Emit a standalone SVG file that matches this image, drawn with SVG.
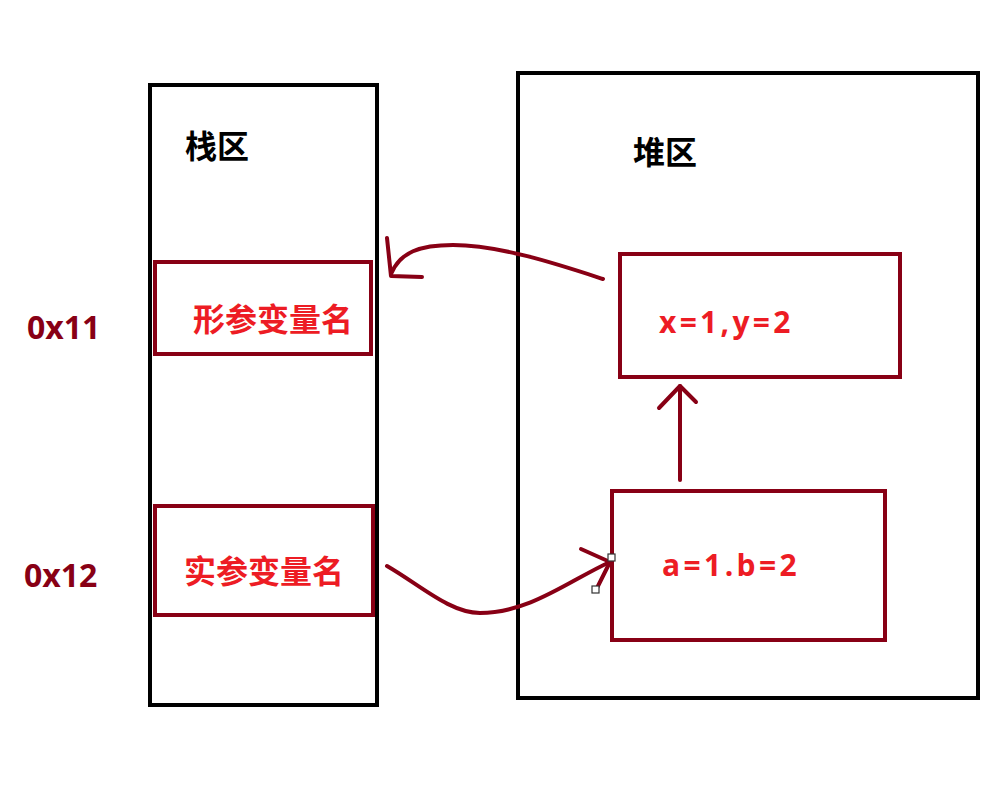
<svg xmlns="http://www.w3.org/2000/svg" width="1008" height="809" viewBox="0 0 1008 809">
<style>
.area{fill:none;stroke:#000;stroke-width:4}
.box{fill:none;stroke:#880015;stroke-width:4}
.conn path{fill:none;stroke:#880015;stroke-width:4;stroke-linecap:round;stroke-linejoin:round}
.zh{font-family:"Noto Sans CJK SC",sans-serif;font-weight:bold}
.lat{font-family:"Open Sans","Noto Sans",sans-serif;font-weight:bold}
.red{fill:#ED1C24}
.dred{fill:#880015}
.h{fill:#fff;stroke:#333;stroke-width:1.2}
</style>
<rect width="1008" height="809" fill="#fff"/>
<g id="stack">
<rect class="area" x="150" y="85" width="227" height="620"/>
<text class="zh" x="185" y="158" font-size="32" fill="#000">栈区</text>
</g>
<g id="heap">
<rect class="area" x="518" y="73" width="460" height="625"/>
<text class="zh" x="633" y="164" font-size="32" fill="#000">堆区</text>
</g>
<g id="formal">
<rect class="box" x="155" y="262" width="216" height="92"/>
<text class="zh red" x="193" y="331" font-size="32">形参变量名</text>
</g>
<g id="actual">
<rect class="box" x="155" y="506" width="218" height="109"/>
<text class="zh red" x="184" y="583" font-size="32">实参变量名</text>
</g>
<g id="obj1">
<rect class="box" x="620" y="254" width="280" height="123"/>
<text class="lat red" x="659" y="333" font-size="30" letter-spacing="3.3">x=1,y=2</text>
</g>
<g id="obj2">
<rect class="box" x="612" y="491" width="273" height="149"/>
<text class="lat red" x="662" y="576" font-size="30" letter-spacing="3.4">a=1.b=2</text>
</g>
<g id="addr1"><text class="lat dred" x="27" y="339" font-size="32">0x11</text></g>
<g id="addr2"><text class="lat dred" x="24" y="587" font-size="32">0x12</text></g>
<g id="connectors" class="conn">
<path d="M603,279 C560,265 500,245 453,245 C420,245 400,252 391,274"/>
<path d="M387,238 L391,276 L422,277"/>
<path d="M387,566 C420,585 450,613 480,613 C530,613 570,580 610,562"/>
<path d="M581,549 L610,562 L597,588"/>
<path d="M680,480 L680,386"/>
<path d="M659,408 L680,386 L696,402"/>
<rect class="h" x="608" y="554" width="7" height="7"/>
<rect class="h" x="592" y="586" width="7" height="7"/>
</g>
</svg>
